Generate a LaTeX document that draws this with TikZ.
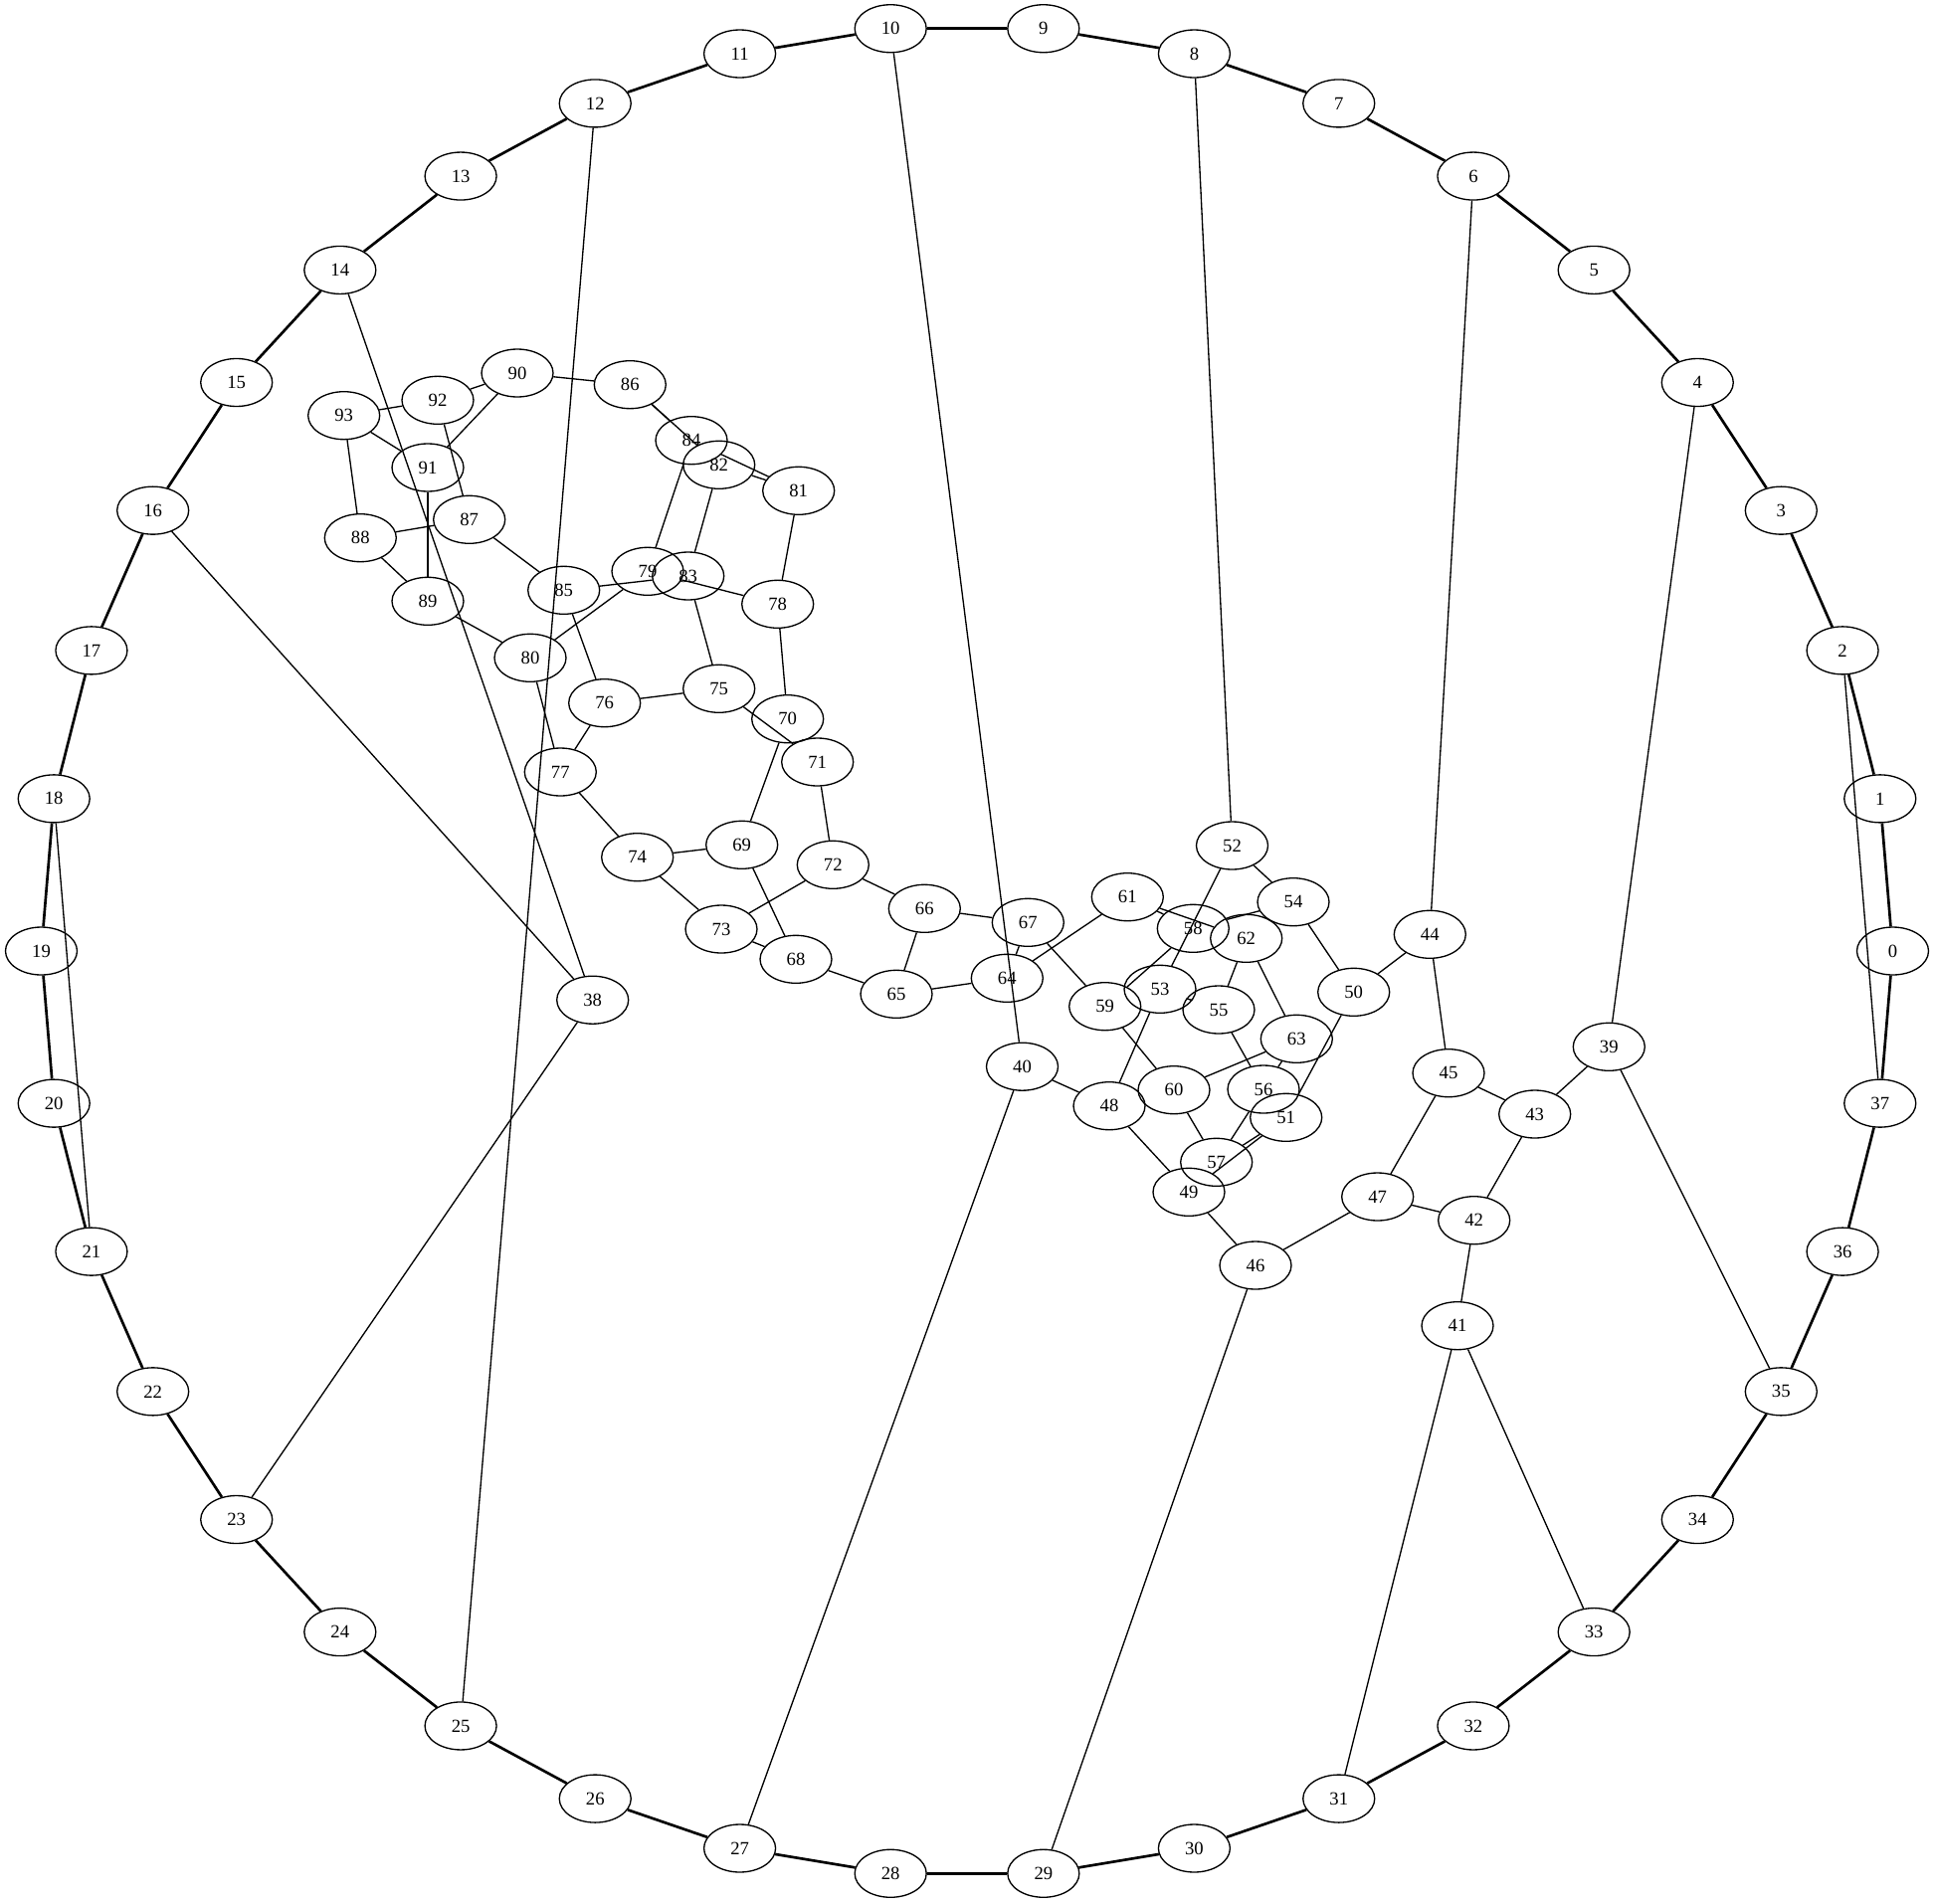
\documentclass[tikz,border=0pt]{standalone}
\usepackage{fontspec}
\setmainfont{Liberation Serif}
\usetikzlibrary{shapes,positioning}
\tikzset{
  vertex-style/.style = {
    ellipse, draw, line width=1pt,
    minimum width=54pt,
    minimum height=36pt,
    inner sep=0pt,
    font=\fontsize{14}{16}\selectfont
  },
  ring-style/.style = {line width=2pt},
  every edge/.style = {draw, line width=1pt}
}

\begin{document}
\begin{tikzpicture}[x=0.75pt,y=-0.75pt]
    \useasboundingbox (0,0) rectangle (1945,1913);

    %%% outer ring
    \foreach \k in {0,...,37}
      \node[vertex-style] (v\k) at ({972+930.5*cos(\k*360/38)},{956-930.5*sin(\k*360/38)}) {\k};

    %%% inner vertices - right part
    \node[vertex-style] (v38) at (595.7,1005.2) {38};
    \node[vertex-style] (v39) at (1617.3,1052.3) {39};
    \node[vertex-style] (v40) at (1027.5,1072.2) {40};
    \node[vertex-style] (v41) at (1465,1332.7) {41};
    \node[vertex-style] (v42) at (1481.7,1226.7) {42};
    \node[vertex-style] (v43) at (1542.7,1120) {43};
    \node[vertex-style] (v44) at (1437.3,939.3) {44};
    \node[vertex-style] (v45) at (1456,1078.7) {45};
    \node[vertex-style] (v46) at (1262,1272) {46};
    \node[vertex-style] (v47) at (1384.7,1203) {47};
    \node[vertex-style] (v48) at (1115,1111.7) {48};
    \node[vertex-style] (v49) at (1195,1198.3) {49};
    \node[vertex-style] (v50) at (1360.7,997.3) {50};
    \node[vertex-style] (v51) at (1292.7,1123.3) {51};
    \node[vertex-style] (v52) at (1238.5,850) {52};
    \node[vertex-style] (v53) at (1166,994.3) {53};
    \node[vertex-style] (v54) at (1300,906.7) {54};
    \node[vertex-style] (v55) at (1225,1015) {55};
    \node[vertex-style] (v56) at (1270,1095) {56};
    \node[vertex-style] (v57) at (1222.7,1168.3) {57};
    \node[vertex-style] (v58) at (1199.3,933.3) {58};
    \node[vertex-style] (v59) at (1110.7,1011.7) {59};
    \node[vertex-style] (v60) at (1180,1095.7) {60};
    \node[vertex-style] (v61) at (1133.3,901.7) {61};
    \node[vertex-style] (v62) at (1252.7,943.3) {62};
    \node[vertex-style] (v63) at (1303.3,1044.3) {63};

    %%% inner vertices - middle part
    \node[vertex-style] (v64) at (1012.3,983.3) {64};
    \node[vertex-style] (v65) at (901,999.3) {65};
    \node[vertex-style] (v66) at (929.3,913.3) {66};
    \node[vertex-style] (v67) at (1033.3,927.3) {67};
    \node[vertex-style] (v68) at (800,964.3) {68};
    \node[vertex-style] (v69) at (745.7,849.3) {69};
    \node[vertex-style] (v70) at (791.7,722.7) {70};
    \node[vertex-style] (v71) at (821.7,766) {71};
    \node[vertex-style] (v72) at (837.3,869.3) {72};
    \node[vertex-style] (v73) at (725,934) {73};
    \node[vertex-style] (v74) at (640.7,861.7) {74};
    \node[vertex-style] (v75) at (722.7,692.3) {75};
    \node[vertex-style] (v76) at (607.7,706.7) {76};
    \node[vertex-style] (v77) at (563.3,776) {77};

    %%% inner vertices - left part
    \node[vertex-style] (v78) at (781.7,607.3) {78};
    \node[vertex-style] (v79) at (651,574.3) {79};
    \node[vertex-style] (v80) at (533,661.3) {80};
    \node[vertex-style] (v81) at (802.7,493.3) {81};
    \node[vertex-style] (v82) at (722.7,467.3) {82};
    \node[vertex-style] (v83) at (691.7,579) {83};
    \node[vertex-style] (v84) at (695,442.7) {84};
    \node[vertex-style] (v85) at (566.7,593.3) {85};
    \node[vertex-style] (v86) at (633.3,386.7) {86};
    \node[vertex-style] (v87) at (471.7,522.3) {87};
    \node[vertex-style] (v88) at (362.3,540.7) {88};
    \node[vertex-style] (v89) at (430,604.3) {89};
    \node[vertex-style] (v90) at (520,375) {90};
    \node[vertex-style] (v91) at (430,470) {91};
    \node[vertex-style] (v92) at (440,402.3) {92};
    \node[vertex-style] (v93) at (345.7,417.7) {93};

    %%% ring edges
    \foreach \k [evaluate=\k as \j using {int(mod(\k+1,38))}] in {0,...,37}
      \path (v\k) edge[ring-style] (v\j);

    %%% chords
    \foreach \a/\b in {2/37,18/21,4/39,6/44,8/52,10/40,12/25,14/38,16/38,23/38,
                       27/40,29/46,31/41,33/41,35/39}
      \path (v\a) edge (v\b);

    %%% inner edges
    \foreach \a/\b in {39/43,42/43,41/42,42/47,46/47,45/47,43/45,44/45,44/50,
                       50/54,50/51,52/54,52/53,53/55,53/48,54/58,58/59,58/61,
                       61/62,61/64,62/55,62/63,63/60,63/56,55/56,56/57,57/60,
                       57/51,51/49,49/48,49/46,48/40,59/60,59/67,67/64,67/66,
                       64/65,65/66,65/68,66/72,72/71,72/73,73/74,73/68,68/69,
                       69/74,69/70,70/71,70/78,71/75,74/77,77/76,77/80,76/75,
                       76/85,75/83,83/82,83/85,82/81,82/86,84/86,84/81,84/79,
                       79/80,79/78,78/81,80/89,85/87,87/88,87/92,88/89,88/93,
                       89/91,91/93,91/90,92/93,92/90,90/86}
      \path (v\a) edge (v\b);
\end{tikzpicture}
\end{document}
